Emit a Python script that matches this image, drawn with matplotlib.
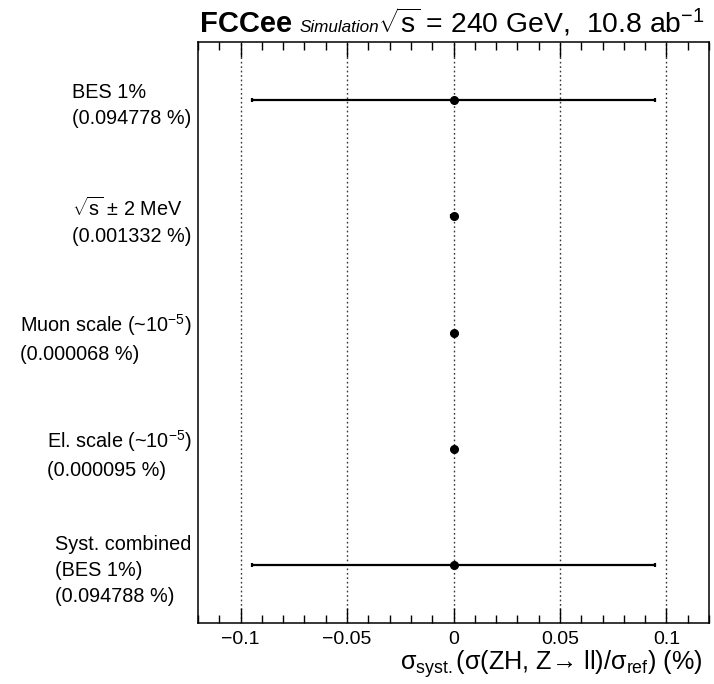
import matplotlib
matplotlib.use("Agg")
import matplotlib.pyplot as plt
from matplotlib.ticker import MultipleLocator, FixedLocator

plt.rcParams['font.family'] = ['Liberation Sans', 'DejaVu Sans']
plt.rcParams['mathtext.fontset'] = 'custom'
plt.rcParams['mathtext.rm'] = 'Liberation Sans'
plt.rcParams['mathtext.it'] = 'Liberation Sans:italic'
plt.rcParams['mathtext.bf'] = 'Liberation Sans:bold'

# ---- data ----
labels = [
    "BES 1%\n(0.094778 %)",
    "$\\sqrt{\\mathrm{s}}$ ± 2 MeV\n(0.001332 %)",
    "Muon scale (~10$^{-5}$)\n(0.000068 %)",
    "El. scale (~10$^{-5}$)\n(0.000095 %)",
    "Syst. combined\n(BES 1%)\n(0.094788 %)",
]
central = [0.0, 0.0, 0.0, 0.0, 0.0]
errors = [0.094778, 0.001332, 0.000068, 0.000095, 0.094788]
xticks = [-0.1, -0.05, 0.0, 0.05, 0.1]
xticklabels = ["\u22120.1", "\u22120.05", "0", "0.05", "0.1"]

fig = plt.figure(figsize=(7.14, 6.84), dpi=100)
ax = fig.add_axes([198/714, (684-623)/684, (709-198)/714, (623-42)/684])

n = len(labels)
ypos = [n - 1 - i for i in range(n)]

for xc in xticks:
    ax.axvline(xc, color='black', lw=1.0, ls=(0, (1.2, 2.0)), zorder=1, alpha=0.8)

ax.errorbar(central, ypos, xerr=errors, fmt='o', color='black', ms=5.5,
            elinewidth=1.6, capsize=1.5, capthick=1.6, zorder=3)

ax.set_xlim(-0.12, 0.12)
ax.set_ylim(-0.5, n - 0.5)
ax.xaxis.set_major_locator(FixedLocator(xticks))
ax.set_xticklabels(xticklabels)
ax.xaxis.set_minor_locator(MultipleLocator(0.01))
ax.tick_params(axis='x', which='major', direction='in', length=11, width=1.0,
               top=True, bottom=True, labelsize=14, pad=6)
ax.tick_params(axis='x', which='minor', direction='in', length=5.5, width=1.0,
               top=True, bottom=True)
ax.set_yticks(ypos)
ax.set_yticklabels(labels)
ax.tick_params(axis='y', which='both', length=0, labelsize=14.3, pad=4.5)
for lbl in ax.get_yticklabels():
    lbl.set_multialignment('left')
    lbl.set_linespacing(1.45)
for s in ax.spines.values():
    s.set_linewidth(1.1)

ax.set_xlabel("σ$_{\\mathrm{syst.}}$(σ(ZH, Z\u2192 ll)/σ$_{\\mathrm{ref}}$) (%)",
              fontsize=18.2, labelpad=0)
ax.xaxis.set_label_coords(703/714, 0, transform=fig.transFigure)
ax.xaxis.label.set_horizontalalignment('right')
ax.xaxis.label.set_verticalalignment('baseline')
ax.xaxis.label.set_position((703/714, (684-670)/684))

fig.text(200/714, (684-32)/684, "FCCee", fontsize=21, fontweight='bold', va='baseline', ha='left')
fig.text(300/714, (684-32)/684, "Simulation", fontsize=12.3, style='italic', va='baseline', ha='left')
fig.text(705/714, (684-32)/684, "$\\sqrt{\\mathrm{s}}$ = 240 GeV,  10.8 ab$^{-1}$", fontsize=20.4,
         va='baseline', ha='right')

fig.savefig("out.png", dpi=100)
